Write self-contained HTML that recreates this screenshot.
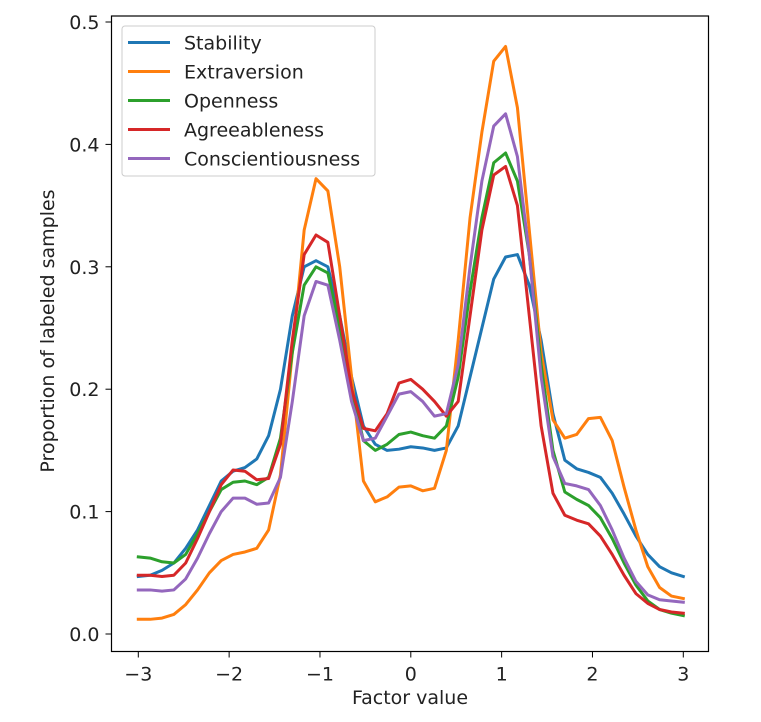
<!DOCTYPE html>
<html><head><meta charset="utf-8"><style>
body{margin:0;background:#fff}
svg text{font-family:"DejaVu Sans","Liberation Sans",sans-serif;fill:#222}
</style></head><body>
<svg id="chart" width="761" height="717" xmlns="http://www.w3.org/2000/svg">
<g id="plot"></g>
</svg>
<script>
const xMin = -3, xMax = 3;
const xTicks = [-3, -2, -1, 0, 1, 2, 3];
const xTickLabels = ["\u22123", "\u22122", "\u22121", "0", "1", "2", "3"];
const yTicks = [0.0, 0.1, 0.2, 0.3, 0.4, 0.5];
const yTickLabels = ["0.0", "0.1", "0.2", "0.3", "0.4", "0.5"];
const seriesNames = ["Stability", "Extraversion", "Openness", "Agreeableness", "Conscientiousness"];
const seriesColors = ["#1f77b4", "#ff7f0e", "#2ca02c", "#d62728", "#9467bd"];
const stability = [.047,.048,.052,.058,.070,.085,.105,.125,.133,.136,.143,.162,.200,.260,.300,.305,.300,.260,.210,.170,.155,.150,.151,.153,.152,.150,.152,.170,.210,.250,.290,.308,.310,.285,.240,.180,.142,.135,.132,.128,.115,.098,.080,.065,.055,.050,.047];
const extraversion = [.012,.012,.013,.016,.024,.036,.050,.060,.065,.067,.070,.085,.130,.230,.330,.372,.362,.300,.210,.125,.108,.112,.120,.121,.117,.119,.150,.240,.340,.410,.468,.480,.430,.330,.230,.175,.160,.163,.176,.177,.158,.120,.085,.055,.038,.031,.029];
const openness = [.063,.062,.059,.058,.065,.082,.100,.118,.124,.125,.122,.128,.160,.230,.285,.300,.295,.250,.200,.158,.150,.155,.163,.165,.162,.160,.170,.210,.280,.340,.385,.393,.370,.310,.220,.150,.116,.110,.105,.095,.078,.058,.040,.027,.020,.017,.015];
const agreeableness = [.048,.048,.047,.048,.058,.078,.100,.122,.134,.133,.126,.127,.155,.240,.310,.326,.320,.260,.200,.168,.166,.180,.205,.208,.200,.190,.178,.190,.260,.330,.375,.382,.350,.260,.170,.115,.097,.093,.090,.080,.065,.048,.033,.025,.020,.018,.017];
const conscientiousness = [.036,.036,.035,.036,.045,.062,.082,.100,.111,.111,.106,.107,.128,.190,.260,.288,.285,.240,.190,.158,.160,.178,.196,.198,.190,.178,.180,.220,.300,.370,.415,.425,.390,.310,.210,.145,.123,.121,.118,.105,.085,.062,.043,.032,.028,.027,.026];
const allSeries = [stability, extraversion, openness, agreeableness, conscientiousness];

const NS = "http://www.w3.org/2000/svg";
const L = 111.5, R = 708.5, T = 16, B = 651.5;
const FS = 19;
function xScale(v){ return 138.3 + (v - xMin) / (xMax - xMin) * (683.3 - 138.3); }
function yScale(v){ return 634 - v * (634 - 22) / 0.5; }
const g = document.getElementById('plot');
function mk(tag, attrs, parent){ const e = document.createElementNS(NS, tag); for (const k in attrs) e.setAttribute(k, attrs[k]); (parent || g).appendChild(e); return e; }

allSeries.forEach((s, si) => {
  const n = s.length;
  const pts = s.map((v, i) => {
    const x = xMin + i * (xMax - xMin) / (n - 1);
    return xScale(x).toFixed(2) + ',' + yScale(v).toFixed(2);
  }).join(' ');
  const pl = mk('polyline', {points: pts, fill: 'none', stroke: seriesColors[si], 'stroke-width': 3, 'stroke-linejoin': 'round', 'stroke-linecap': 'square'});
  
  
});

const frame = mk('rect', {x: L, y: T, width: R - L, height: B - T, fill: 'none', stroke: '#000', 'stroke-width': 1.2});



xTicks.forEach((t, i) => {
  const x = xScale(t);
  const tk = mk('line', {x1: x, x2: x, y1: B, y2: B + 6, stroke: '#000', 'stroke-width': 1});
  
  
  const tx = mk('text', {x: x, y: B + 29, 'text-anchor': 'middle', 'font-size': FS});
  tx.textContent = xTickLabels[i];
  
  
});
yTicks.forEach((t, i) => {
  const y = yScale(t);
  const tk = mk('line', {x1: L - 6, x2: L, y1: y, y2: y, stroke: '#000', 'stroke-width': 1});
  
  
  const tx = mk('text', {x: L - 12, y: y + 7, 'text-anchor': 'end', 'font-size': FS});
  tx.textContent = yTickLabels[i];
  
  
});

const xt = mk('text', {x: 410, y: 704, 'text-anchor': 'middle', 'font-size': FS});
xt.textContent = 'Factor value';


const yt = mk('text', {x: 0, y: 0, 'text-anchor': 'middle', 'font-size': FS, transform: 'translate(54,331) rotate(-90)'});
yt.textContent = 'Proportion of labeled samples';



const lg = mk('g', {});


mk('rect', {x: 122, y: 26, width: 253, height: 150, rx: 3, fill: 'rgba(255,255,255,0.8)', stroke: '#ccc', 'stroke-width': 1}, lg);
seriesNames.forEach((n, i) => {
  const y = 42.5 + i * 29;
  const e = mk('g', {}, lg);
  
  
  mk('line', {x1: 128, x2: 170, y1: y, y2: y, stroke: seriesColors[i], 'stroke-width': 3}, e);
  const t = mk('text', {x: 184, y: y + 7, 'font-size': FS}, e);
  t.textContent = n;
});
</script>
</body></html>
